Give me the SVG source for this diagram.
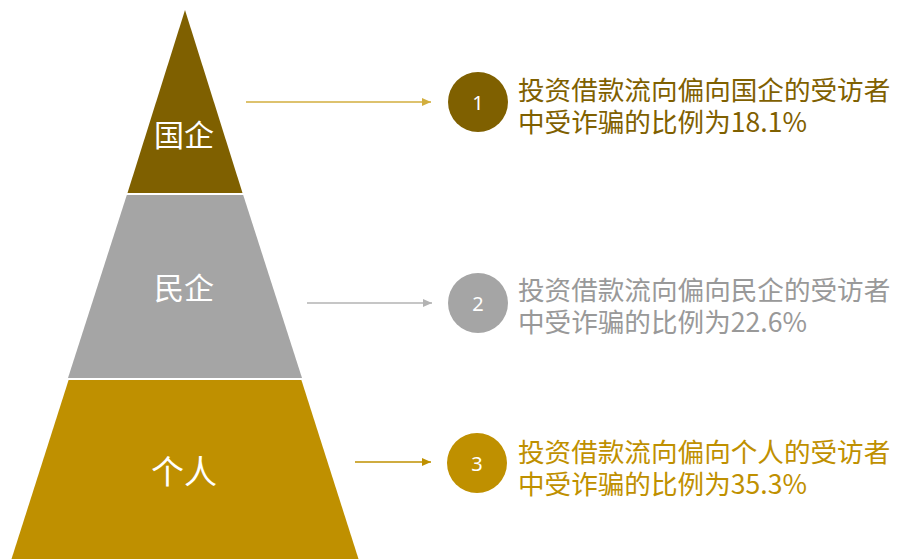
<svg xmlns="http://www.w3.org/2000/svg" width="898" height="559" viewBox="0 0 898 559">
  <style>
    .lbl { font-family: "Noto Sans CJK SC", "Noto Sans", sans-serif; fill: #FFFFFF; text-anchor: middle; dominant-baseline: central; }
    .num { font-family: "Noto Sans", "Liberation Sans", sans-serif; font-size: 20px; fill: #FFFFFF; text-anchor: middle; dominant-baseline: central; }
    .desc { font-family: "Noto Sans CJK SC", "Noto Sans", sans-serif; font-size: 26.6px; }
  </style>
  <defs>
    <marker id="ah1" markerWidth="10" markerHeight="10" refX="9" refY="5" orient="auto" markerUnits="userSpaceOnUse">
      <path d="M0,1 L9,5 L0,9 Z" fill="#D2AE3E"/>
    </marker>
    <marker id="ah2" markerWidth="10" markerHeight="10" refX="9" refY="5" orient="auto" markerUnits="userSpaceOnUse">
      <path d="M0,1 L9,5 L0,9 Z" fill="#B3B3B3"/>
    </marker>
    <marker id="ah3" markerWidth="10" markerHeight="10" refX="9" refY="5" orient="auto" markerUnits="userSpaceOnUse">
      <path d="M0,1 L9,5 L0,9 Z" fill="#BF9000"/>
    </marker>
  </defs>
  <rect width="898" height="559" fill="#FFFFFF"/>

  <g id="tier-top">
    <polygon points="185,10 242.5,193 127.5,193" fill="#7F6000"/>
    <text class="lbl" x="184" y="133" font-size="30">国企</text>
  </g>
  <g id="tier-middle">
    <polygon points="126.8,195 243.2,195 302,378 68,378" fill="#A5A5A5"/>
    <text class="lbl" x="184" y="286" font-size="30">民企</text>
  </g>
  <g id="tier-bottom">
    <polygon points="68.6,380 301.4,380 358.5,559 11.5,559" fill="#BF9000"/>
    <text class="lbl" x="184" y="470" font-size="33">个人</text>
  </g>

  <g id="connectors">
    <line x1="246" y1="102" x2="431" y2="102" stroke="#D2AE3E" stroke-width="1.5" marker-end="url(#ah1)"/>
    <line x1="307" y1="303" x2="432" y2="303" stroke="#B3B3B3" stroke-width="1.5" marker-end="url(#ah2)"/>
    <line x1="355" y1="462" x2="431" y2="462" stroke="#BF9000" stroke-width="1.5" marker-end="url(#ah3)"/>
  </g>

  <g id="item-1">
    <circle cx="478" cy="102" r="30" fill="#7F6000"/>
    <text class="num" x="478" y="102">1</text>
    <text class="desc" fill="#7F6000" x="518" y="100">投资借款流向偏向国企的受访者<tspan x="518" dy="32">中受诈骗的比例为18.1%</tspan></text>
  </g>
  <g id="item-2">
    <circle cx="478" cy="303" r="30" fill="#A5A5A5"/>
    <text class="num" x="478" y="303">2</text>
    <text class="desc" fill="#999999" x="518" y="300">投资借款流向偏向民企的受访者<tspan x="518" dy="32">中受诈骗的比例为22.6%</tspan></text>
  </g>
  <g id="item-3">
    <circle cx="477" cy="463" r="30" fill="#BF9000"/>
    <text class="num" x="477" y="463">3</text>
    <text class="desc" fill="#BF9000" x="518" y="462">投资借款流向偏向个人的受访者<tspan x="518" dy="32">中受诈骗的比例为35.3%</tspan></text>
  </g>
</svg>
